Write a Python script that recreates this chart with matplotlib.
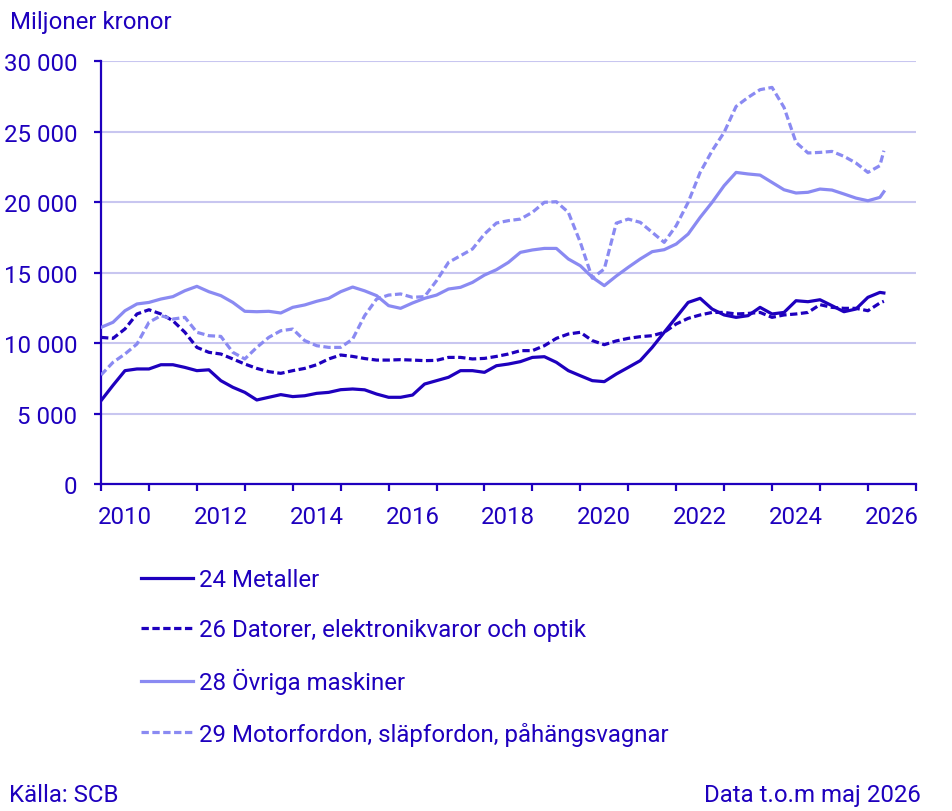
import matplotlib
matplotlib.use('Agg')
import matplotlib.pyplot as plt
import matplotlib.ticker as mticker
import numpy as np
import pandas as pd

# quarterly readings, Jan 2010 .. Apr 2026, plus the last month (May 2026)
dates = list(pd.date_range('2010-01-01', '2026-04-01', freq='QS')) + [pd.Timestamp('2026-05-01')]

metaller = [5.91, 7.0, 8.04, 8.16, 8.16, 8.46, 8.46, 8.27,
            8.04, 8.1, 7.33, 6.86, 6.5, 5.96, 6.15, 6.34,
            6.2, 6.26, 6.43, 6.5, 6.69, 6.74, 6.68, 6.38,
            6.15, 6.15, 6.31, 7.09, 7.33, 7.57, 8.04, 8.04,
            7.92, 8.39, 8.51, 8.68, 8.98, 9.03, 8.63, 8.04,
            7.68, 7.33, 7.26, 7.8, 8.27, 8.75, 9.69, 10.76,
            11.82, 12.88, 13.17, 12.41, 11.99, 11.82, 11.94, 12.53,
            12.06, 12.17, 13.0, 12.93, 13.07, 12.65, 12.22, 12.41,
            13.24, 13.59, 13.55]

datorer = [10.4, 10.33, 11.0, 12.06, 12.36, 12.06, 11.58, 10.76,
           9.69, 9.34, 9.22, 8.87, 8.51, 8.2, 7.97, 7.85,
           8.04, 8.2, 8.46, 8.87, 9.15, 9.05, 8.9, 8.79,
           8.79, 8.82, 8.79, 8.75, 8.77, 8.98, 8.98, 8.87,
           8.91, 9.05, 9.22, 9.46, 9.46, 9.81, 10.33, 10.64,
           10.76, 10.17, 9.88, 10.15, 10.33, 10.45, 10.52, 10.76,
           11.35, 11.75, 11.99, 12.17, 12.17, 12.06, 12.1, 12.17,
           11.82, 11.99, 12.06, 12.17, 12.72, 12.53, 12.46, 12.46,
           12.29, 12.84, 12.96]

maskiner = [11.11, 11.47, 12.29, 12.77, 12.88, 13.12, 13.29, 13.71,
            14.02, 13.64, 13.36, 12.88, 12.25, 12.22, 12.25, 12.13,
            12.53, 12.7, 12.96, 13.17, 13.64, 13.97, 13.7, 13.36,
            12.65, 12.46, 12.84, 13.17, 13.4, 13.83, 13.95, 14.3,
            14.82, 15.2, 15.72, 16.43, 16.6, 16.71, 16.71, 15.96,
            15.48, 14.66, 14.07, 14.75, 15.37, 15.96, 16.48, 16.62,
            17.02, 17.73, 18.91, 19.98, 21.16, 22.1, 21.99, 21.91,
            21.39, 20.87, 20.64, 20.69, 20.92, 20.85, 20.57, 20.28,
            20.09, 20.33, 20.73]

motorfordon = [7.73, 8.63, 9.22, 9.93, 11.47, 11.94, 11.7, 11.82,
               10.76, 10.52, 10.47, 9.34, 8.87, 9.69, 10.4, 10.87,
               10.99, 10.17, 9.81, 9.69, 9.69, 10.28, 11.94, 13.12,
               13.4, 13.48, 13.24, 13.29, 14.42, 15.72, 16.19, 16.67,
               17.73, 18.51, 18.68, 18.79, 19.27, 19.98, 20.02, 19.27,
               17.14, 14.6, 15.25, 18.5, 18.79, 18.56, 17.85, 17.14,
               18.32, 19.98, 22.1, 23.64, 24.94, 26.78, 27.42, 27.97,
               28.13, 26.71, 24.23, 23.48, 23.52, 23.59, 23.24, 22.77,
               22.1, 22.58, 23.64]

labels = ['24 Metaller',
          '26 Datorer, elektronikvaror och optik',
          '28 Övriga maskiner',
          '29 Motorfordon, släpfordon, påhängsvagnar']

dark = '#1e00be'
light = '#8a8af2'
grid = '#c8c6f0'

plt.rcParams['font.family'] = ['Roboto', 'DejaVu Sans']
plt.rcParams['font.size'] = 17.3

x = np.array([d.year + (d.month - 1) / 12 for d in dates])

fig = plt.figure(figsize=(9.53, 8.12), dpi=100)
ax = fig.add_axes([0.106, 0.4027, 0.855, 0.5209])

dash = (0, (2.3, 1.1))
ax.plot(x, np.array(metaller) * 1000, color=dark, lw=2.3, label=labels[0], zorder=3)
ax.plot(x, np.array(datorer) * 1000, color=dark, lw=2.3, ls=dash, label=labels[1], zorder=3)
ax.plot(x, np.array(maskiner) * 1000, color=light, lw=2.3, label=labels[2], zorder=3)
ax.plot(x, np.array(motorfordon) * 1000, color=light, lw=2.3, ls=dash, label=labels[3], zorder=3)

ax.set_xlim(2010, 2027)
ax.set_ylim(0, 30000)

ax.set_yticks(range(0, 30001, 5000))
ax.yaxis.set_major_formatter(mticker.FuncFormatter(lambda v, p: f'{int(v):,}'.replace(',', ' ')))
ax.grid(axis='y', color=grid, lw=1.5, zorder=0)

ax.set_xticks(range(2010, 2028))
ax.set_xticklabels([])
ax.set_xticks([y + 0.5 for y in range(2010, 2027, 2)], minor=True)
ax.set_xticklabels([str(y) for y in range(2010, 2027, 2)], minor=True)

for s in ['top', 'right']:
    ax.spines[s].set_visible(False)
for s in ['left', 'bottom']:
    ax.spines[s].set_color(dark)
    ax.spines[s].set_linewidth(1.6)

ax.tick_params(axis='both', which='major', color=dark, width=1.6, length=5, labelcolor=dark)
ax.tick_params(axis='y', pad=12)
ax.tick_params(axis='x', which='minor', length=0, pad=15, labelcolor=dark)

fig.text(0.011, 1 - 22 / 812, 'Miljoner kronor', color=dark, va='center', ha='left')
fig.text(0.009, 1 - 796 / 812, 'Källa: SCB', color=dark, va='center', ha='left')
fig.text(0.966, 1 - 796 / 812, 'Data t.o.m maj 2026', color=dark, va='center', ha='right')

fig.legend(loc='upper left', bbox_to_anchor=(141 / 953, 1 - 569 / 812), frameon=False,
           borderpad=0, borderaxespad=0, handlelength=2.15, handletextpad=0.25,
           labelspacing=1.13, labelcolor=dark)

fig.savefig('out.png', dpi=100)
